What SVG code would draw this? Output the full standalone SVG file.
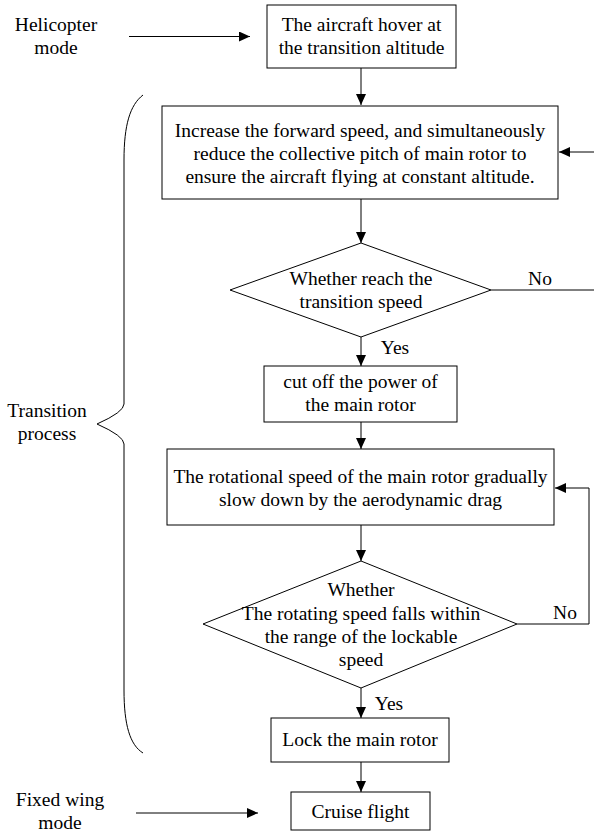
<svg xmlns="http://www.w3.org/2000/svg" width="594" height="832" viewBox="0 0 594 832">
<style>
text{font-family:"Liberation Serif","Times New Roman",serif;font-size:19.5px;fill:#000;text-anchor:middle}
.n rect,.n polygon{fill:#fff;stroke:#000;stroke-width:1}
#connectors path{fill:none;stroke:#000;stroke-width:1}
.br{fill:none;stroke:#000;stroke-width:1}
</style>
<defs>
<marker id="ah" viewBox="0 0 11 10" refX="11" refY="5" markerWidth="11" markerHeight="10" markerUnits="userSpaceOnUse" orient="auto"><path d="M0,0 L11,5 L0,10 z" fill="#000"/></marker>
</defs>
<rect width="594" height="832" fill="#fff"/>
<g id="connectors">
<path d="M129,36.5 H250" marker-end="url(#ah)"/>
<path d="M361,68 V105" marker-end="url(#ah)"/>
<path d="M594,152 H559" marker-end="url(#ah)"/>
<path d="M361,199 V243" marker-end="url(#ah)"/>
<path d="M491,290 H594"/>
<path d="M361,337 V366" marker-end="url(#ah)"/>
<path d="M361,422 V449" marker-end="url(#ah)"/>
<path d="M361,525 V561" marker-end="url(#ah)"/>
<path d="M517,624 H589 V488 H555" marker-end="url(#ah)"/>
<path d="M361,688 V718" marker-end="url(#ah)"/>
<path d="M361,762 V792" marker-end="url(#ah)"/>
<path d="M136,813 H258" marker-end="url(#ah)"/>
</g>
<g id="label-helicopter"><text x="56" y="31">Helicopter</text><text x="56" y="54">mode</text></g>
<g id="label-fixed"><text x="60" y="806">Fixed wing</text><text x="60" y="829">mode</text></g>
<g id="label-transition">
<path class="br" d="M143,95 C130,105 124,125 124,160 V404 Q124,412 97,424 Q124,436 124,444 V690 C124,725 130,745 143,753"/>
<text x="47" y="417">Transition</text><text x="47" y="440">process</text>
</g>
<g id="hover" class="n"><rect x="267" y="5" width="189" height="63"/><text x="361.5" y="31">The aircraft hover at</text><text x="361.5" y="54">the transition altitude</text></g>
<g id="increase" class="n"><rect x="162" y="106" width="396" height="93"/><text x="360" y="136.5">Increase the forward speed, and simultaneously</text><text x="360" y="159.5">reduce the collective pitch of main rotor to</text><text x="360" y="183">ensure the aircraft flying at constant altitude.</text></g>
<g id="decision1" class="n"><polygon points="361,243 491,290 361,337 230,290"/><text x="361" y="284.5">Whether reach the</text><text x="361" y="307.5">transition speed</text></g>
<g id="label-no1"><text x="540" y="284.5">No</text></g>
<g id="label-yes1"><text x="395" y="353.5">Yes</text></g>
<g id="cutoff" class="n"><rect x="264" y="366" width="193" height="56"/><text x="360.5" y="388">cut off the power of</text><text x="360.5" y="411">the main rotor</text></g>
<g id="slowdown" class="n"><rect x="167" y="449" width="387" height="76"/><text x="360.5" y="483">The rotational speed of the main rotor gradually</text><text x="360.5" y="506">slow down by the aerodynamic drag</text></g>
<g id="decision2" class="n"><polygon points="361,561 517,624 361,688 203,624"/><text x="361" y="596">Whether</text><text x="361" y="619.5">The rotating speed falls within</text><text x="361" y="643">the range of the lockable</text><text x="361" y="666">speed</text></g>
<g id="label-no2"><text x="565" y="619">No</text></g>
<g id="label-yes2"><text x="389" y="710">Yes</text></g>
<g id="lock" class="n"><rect x="271" y="718" width="178" height="44"/><text x="360" y="746">Lock the main rotor</text></g>
<g id="cruise" class="n"><rect x="291" y="792" width="139" height="38"/><text x="360.5" y="818">Cruise flight</text></g>
</svg>
